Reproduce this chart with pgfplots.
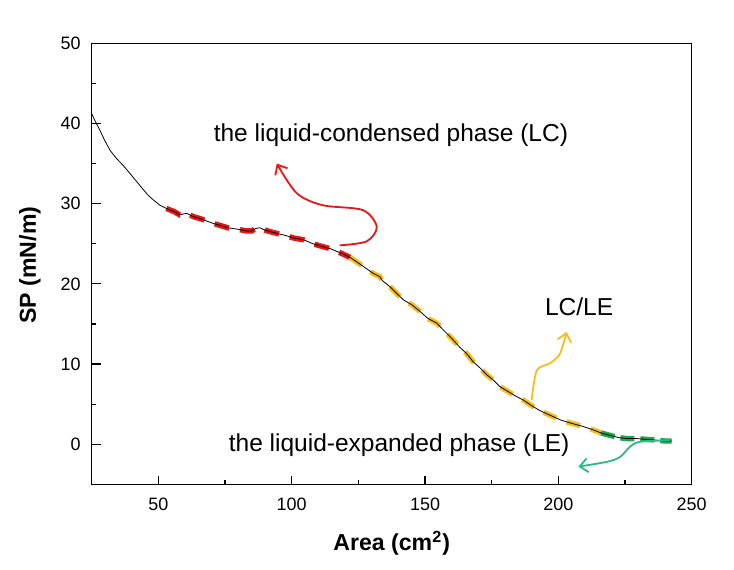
\documentclass[border=0pt]{standalone}
\usepackage{fontspec}
\setmainfont{Liberation Sans}
\usepackage{pgfplots}
\pgfplotsset{compat=1.18}
\usetikzlibrary{arrows.meta}

\definecolor{lcred}{RGB}{235,20,20}
\definecolor{lcyellow}{RGB}{245,190,30}
\definecolor{legreen}{RGB}{30,165,80}
\definecolor{leteal}{RGB}{40,185,140}

% isotherm (area in cm^2, surface pressure in mN/m)
\pgfplotstableread{
x y
24.5 41.6
26 40.5
28 39.2
30 37.8
32 36.6
34.4 35.6
37 34.7
40 33.5
43 32.3
46 31.1
48 30.5
50.6 29.8
53 29.4
56 29.0
58 28.6
60.6 28.8
63 28.4
66 28.1
70 27.6
73 27.3
76 27.0
80 26.8
83 26.6
85 26.6
86.5 26.9
88 27.0
90 26.7
92 26.5
94.4 26.3
98 26.0
101 25.7
104.4 25.5
108 25.0
111 24.7
114.4 24.4
118 23.9
121.9 23.3
125 22.6
128 21.9
130.6 21.3
133 20.9
134 20.4
137 19.6
140 18.6
141.9 18.0
145 17.4
148 16.6
151 15.7
154.4 15.1
157 14.2
160 13.2
163 12.1
165.6 11.3
168 10.3
171 9.4
173 8.7
175.6 8.0
178 7.2
181 6.6
184 6.0
186.9 5.5
190 4.8
193 4.2
197 3.6
201 3.0
205 2.6
209.4 2.2
213 1.8
216 1.4
219.4 1.1
223 0.8
226 0.7
229.4 0.7
233 0.6
237 0.5
240 0.4
242.5 0.4
}\isotherm

\begin{document}
\begin{tikzpicture}
\begin{axis}[
  scale only axis,
  width=300bp, height=220.5bp,
  xmin=25, xmax=250, ymin=-5, ymax=50,
  xtick={50,100,...,250}, ytick={0,10,...,50},
  minor xtick={75,125,...,225}, minor ytick={-5,5,...,45},
  xtick pos=bottom, ytick pos=left,
  tick align=inside,
  major tick length=4.4bp, minor tick length=2.3bp,
  axis line style={line width=0.7pt},
  every tick/.style={black, line width=0.6pt},
  /pgf/number format/assume math mode=true,
  ticklabel style={font=\fontsize{9}{10}\selectfont},
  xticklabel style={yshift=-3.5bp},
  yticklabel style={xshift=-2bp},
  xlabel={\textbf{Area (cm\textsuperscript{2})}},
  ylabel={\textbf{SP (mN/m)}},
  label style={font=\fontsize{11.6}{13}\selectfont},
  xlabel style={at={(axis description cs:0.5,-0.134)}, anchor=center},
  ylabel style={at={(axis description cs:-0.103,0.497)}, anchor=center, rotate=0},
]
% hand-drawn phase markings
\addplot[lcred, line width=2.7bp, dash pattern=on 7.5bp off 5.5bp, restrict x to domain=52:121.9] table {\isotherm};
\addplot[lcyellow, line width=2.7bp, dash pattern=on 7bp off 5.5bp, restrict x to domain=121.9:216] table {\isotherm};
\addplot[legreen, line width=2.7bp, dash pattern=on 7bp off 3bp, restrict x to domain=216:243] table {\isotherm};
% measured curve
\addplot[black, line width=0.4pt] table {\isotherm};

% arrows
\draw[lcred, line width=0.9bp, -{Straight Barb[length=4bp,width=7bp]}]
  plot[smooth] coordinates {(axis cs:118,24.8) (axis cs:128.1,25.3) (axis cs:131.9,27.1)
  (axis cs:126.7,29.2) (axis cs:111.7,29.8) (axis cs:101.9,31.3) (axis cs:94.4,35.0)};
\draw[lcyellow, line width=0.9bp, -{Straight Barb[length=4bp,width=7bp]}]
  plot[smooth] coordinates {(axis cs:190,5.5) (axis cs:191.9,9.2) (axis cs:196.9,10.1)
  (axis cs:200.6,11.3) (axis cs:203.1,14.0)};
\draw[leteal, line width=0.9bp, -{Straight Barb[length=4bp,width=7bp]}]
  plot[smooth] coordinates {(axis cs:241.9,0.5) (axis cs:230.6,0.3) (axis cs:226.9,-0.3)
  (axis cs:223.1,-1.6) (axis cs:218.1,-2.2) (axis cs:207.5,-2.8)};

% annotations
\node[font=\fontsize{12.3}{14}\selectfont] at (axis cs:137.2,38.5) {the liquid-condensed phase (LC)};
\node[font=\fontsize{12.3}{14}\selectfont] at (axis cs:207.8,17.1) {LC/LE};
\node[font=\fontsize{12.3}{14}\selectfont] at (axis cs:140.3,-0.1) {the liquid-expanded phase (LE)};

\coordinate (bl) at (rel axis cs:0,0);
\coordinate (tr) at (rel axis cs:1,1);
\end{axis}
% page extent
\path (bl) ++(-45.85bp,-42.85bp) rectangle ([shift={(21.15bp,21.65bp)}]tr);
\end{tikzpicture}
\end{document}
